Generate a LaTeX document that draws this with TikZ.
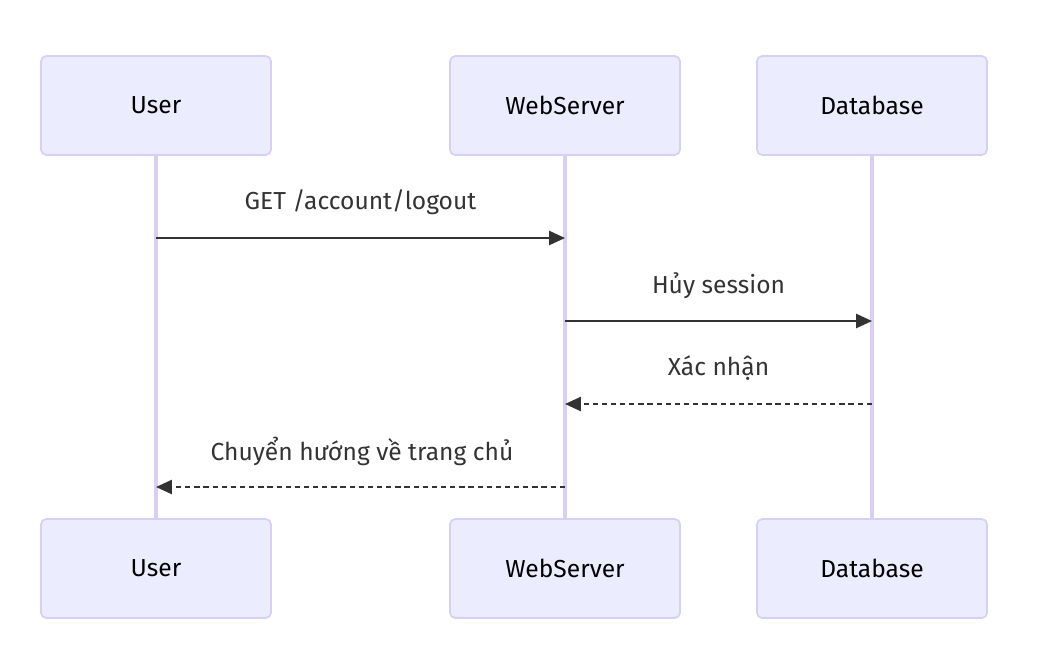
\documentclass[tikz,border=0pt]{standalone}
\usepackage{fontspec}
\setmainfont{Fira Sans}
\usetikzlibrary{arrows.meta}
\definecolor{actfill}{HTML}{ECECFF}
\definecolor{actline}{HTML}{D9CEF3}
\definecolor{msgcol}{HTML}{333333}
\begin{document}
\begin{tikzpicture}[x=0.02cm,y=-0.02cm,
    actor/.style={draw=actline,fill=actfill,rounded corners=3pt,line width=1pt,minimum width=4.6cm,minimum height=1.98cm,inner sep=0pt,font=\fontsize{14}{16}\selectfont,text=black},
    life/.style={draw=actline,line width=2.1pt},
    msg/.style={draw=msgcol,line width=1.1pt,-{Triangle[length=9pt,width=8pt]}},
    reply/.style={msg,dash pattern=on 3pt off 2.2pt},
    lbl/.style={font=\fontsize{14}{16}\selectfont,text=msgcol}]
        \useasboundingbox (0,0) rectangle (1044,647);
        % lifelines
        \coordinate (u1) at (156,238);
        \coordinate (w1) at (565,238);
        \coordinate (w2) at (565,321);
        \coordinate (d2) at (872,321);
        \coordinate (d3) at (872,404);
        \coordinate (w3) at (565,404);
        \coordinate (w4) at (565,487);
        \coordinate (u4) at (156,487);
        \draw[life] (156,155) -- (156,519);
        \draw[life] (565,155) -- (565,519);
        \draw[life] (872,155) -- (872,519);
        \node[actor] (userT) at (156,105.5) {User};
        \node[actor] (webT) at (565,105.5) {WebServer};
        \node[actor] (dbT) at (872,105.5) {Database};
        \node[actor] (userB) at (156,568.5) {User};
        \node[actor] (webB) at (565,568.5) {WebServer};
        \node[actor] (dbB) at (872,568.5) {Database};
        % messages
        \draw[msg] (u1) -- (w1);
        \draw[msg] (w2) -- (d2);
        \draw[reply] (d3) -- (w3);
        \draw[reply] (w4) -- (u4);
        \node[lbl] (m1) at (360.5,202.5) {GET /account/logout};
        \node[lbl] (m2) at (718.5,285.5) {Hủy session};
        \node[lbl] (m3) at (718.5,368.5) {Xác nhận};
        \node[lbl] (m4) at (362,451.5) {Chuyển hướng về trang chủ};
\end{tikzpicture}
\end{document}
